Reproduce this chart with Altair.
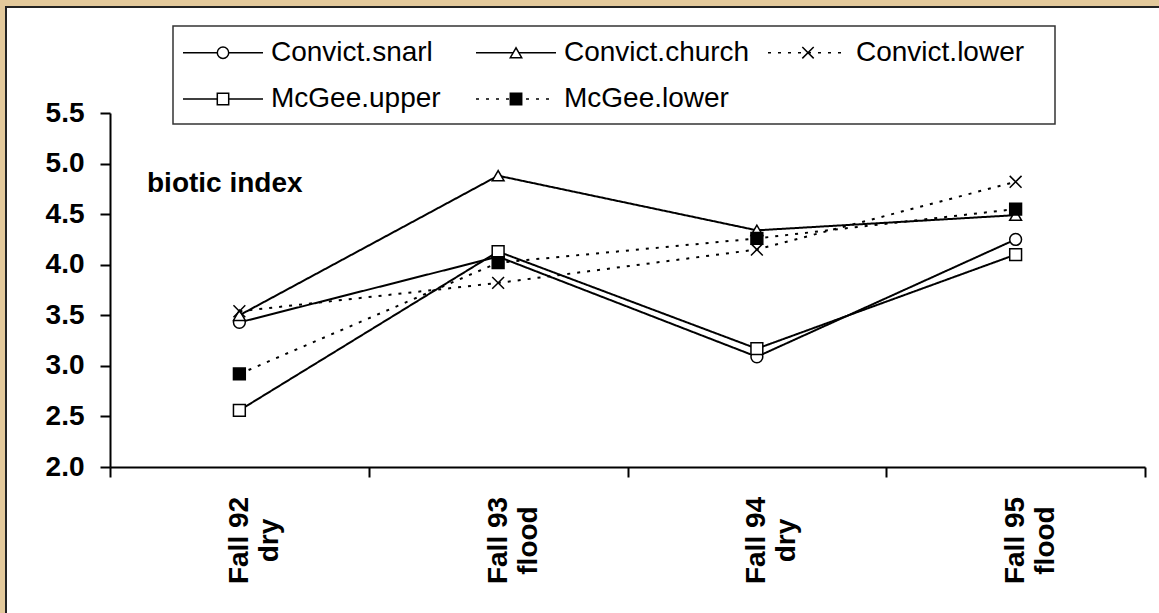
import altair as alt
import pandas as pd

# ---- data ----
periods = ["Fall 92", "Fall 93", "Fall 94", "Fall 95"]
conditions = ["dry", "flood", "dry", "flood"]
series = ["Convict.snarl", "Convict.church", "Convict.lower", "McGee.upper", "McGee.lower"]
convict_snarl = [3.43, 4.08, 3.09, 4.25]
convict_church = [3.50, 4.88, 4.34, 4.49]
convict_lower = [3.54, 3.82, 4.15, 4.82]
mcgee_upper = [2.56, 4.13, 3.17, 4.10]
mcgee_lower = [2.92, 4.02, 4.26, 4.55]
y_ticks = [2.0, 2.5, 3.0, 3.5, 4.0, 4.5, 5.0, 5.5]
y_title = "biotic index"

categories = [f"{p}|{c}" for p, c in zip(periods, conditions)]
all_values = [convict_snarl, convict_church, convict_lower, mcgee_upper, mcgee_lower]

rows = []
for s, vals in zip(series, all_values):
    for cat, v in zip(categories, vals):
        rows.append({"series": s, "period": cat, "value": v})
df = pd.DataFrame(rows)

# ---- styles ----
FONT = "Liberation Sans"
X_MARK = "M-1,-1L1,1M-1,1L1,-1"
dash_scale = alt.Scale(domain=series, range=[[1, 0], [1, 0], [3, 7], [1, 0], [3, 7]])
shape_scale = alt.Scale(domain=series, range=["circle", "triangle-up", X_MARK, "square", "square"])
fill_scale = alt.Scale(domain=series, range=["white", "white", "white", "white", "black"])

W, H = 1035, 354
PAD = {"left": 110, "top": 113, "right": 14, "bottom": 146}

x_enc = alt.X(
    "period:N",
    sort=categories,
    scale=alt.Scale(type="band", domain=categories, paddingInner=0, paddingOuter=0),
    axis=alt.Axis(
        title=None,
        zindex=2,
        tickBand="extent",
        labelExpr="split(datum.label, '|')",
        labelAngle=270,
        labelAlign="center",
        labelBaseline="middle",
        labelPadding=63,
        labelLineHeight=30,
        labelFontSize=28,
        labelFontWeight="bold",
        labelFont=FONT,
        labelColor="black",
        labelOverlap=False,
        tickSize=10,
        tickWidth=2,
        tickColor="black",
        domainColor="black",
        domainWidth=2,
        grid=False,
    ),
)
y_enc = alt.Y(
    "value:Q",
    scale=alt.Scale(domain=[2.0, 5.5], nice=False, zero=False),
    axis=alt.Axis(
        title=None,
        zindex=2,
        values=y_ticks,
        format=".1f",
        labelFontSize=28,
        labelFontWeight="bold",
        labelFont=FONT,
        labelColor="black",
        labelPadding=16,
        tickSize=10,
        tickWidth=2,
        tickColor="black",
        domainColor="black",
        domainWidth=2,
        grid=False,
    ),
)

one = alt.Data(values=[{"k": 1}])

# white panel with border
panel = alt.Chart(one).mark_rect(fill="white", stroke="#222222", strokeWidth=2).encode(
    x=alt.value(-104), x2=alt.value(1070), y=alt.value(-106), y2=alt.value(520)
)

lines = alt.Chart(df).mark_line(color="black", strokeWidth=2).encode(
    x=x_enc,
    y=y_enc,
    strokeDash=alt.StrokeDash("series:N", scale=dash_scale, legend=None),
    detail="series:N",
)

points = alt.Chart(df).mark_point(
    filled=True, stroke="black", strokeWidth=1.5, size=140, opacity=1
).encode(
    x=alt.X("period:N", sort=categories),
    y="value:Q",
    shape=alt.Shape("series:N", scale=shape_scale, legend=None),
    fill=alt.Fill("series:N", scale=fill_scale, legend=None),
)

title_text = alt.Chart(one).mark_text(
    text=y_title, font=FONT, fontSize=28, fontWeight="bold", align="left", baseline="alphabetic", color="black"
).encode(x=alt.value(37), y=alt.value(79))

# ---- hand-drawn legend (Excel style) ----
col_x = [73, 366, 658]
row_y = [-60.3, -14.0]
leg_rows = []
for i, s in enumerate(series):
    c, r = i % 3, i // 3
    leg_rows.append({
        "series": s,
        "lx0": col_x[c], "lx1": col_x[c] + 80, "lxm": col_x[c] + 40, "lxt": col_x[c] + 88,
        "ly": row_y[r],
    })
leg_df = pd.DataFrame(leg_rows)

leg_box = alt.Chart(one).mark_rect(fill="white", stroke="#333333", strokeWidth=1.5).encode(
    x=alt.value(63), x2=alt.value(945), y=alt.value(-87), y2=alt.value(11)
)
leg_lines = alt.Chart(leg_df).mark_rule(color="black", strokeWidth=1.5).encode(
    x=alt.X("lx0:Q", scale=None),
    x2="lx1:Q",
    y=alt.Y("ly:Q", scale=None),
    strokeDash=alt.StrokeDash("series:N", scale=dash_scale, legend=None),
)
leg_points = alt.Chart(leg_df).mark_point(
    filled=True, stroke="black", strokeWidth=1.5, size=130, opacity=1
).encode(
    x=alt.X("lxm:Q", scale=None),
    y=alt.Y("ly:Q", scale=None),
    shape=alt.Shape("series:N", scale=shape_scale, legend=None),
    fill=alt.Fill("series:N", scale=fill_scale, legend=None),
)
leg_text = alt.Chart(leg_df).mark_text(
    font=FONT, fontSize=28, align="left", baseline="middle", color="black"
).encode(
    x=alt.X("lxt:Q", scale=None),
    y=alt.Y("ly:Q", scale=None),
    text="series:N",
)

chart = alt.layer(
    panel, lines, points, title_text, leg_box, leg_lines, leg_points, leg_text
).properties(
    width=W, height=H, padding=PAD,
    autosize=alt.AutoSizeParams(type="none"),
    background="#e3c99b",
).configure_view(stroke=None).configure(font=FONT)

chart.save("out.html", embed_options={"renderer": "svg", "actions": False})
